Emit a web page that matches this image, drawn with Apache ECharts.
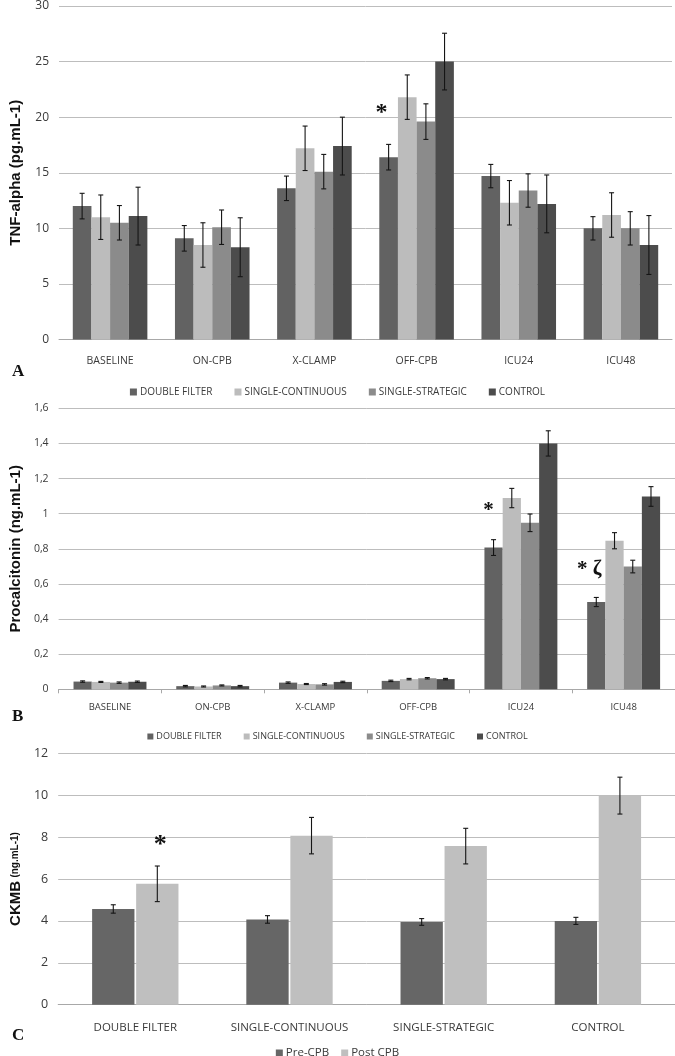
<!DOCTYPE html>
<html><head><meta charset="utf-8">
<script src="https://cdn.jsdelivr.net/npm/echarts@6/dist/echarts.min.js"></script>
<style>html,body{margin:0;padding:0;background:#fff}#c{width:675px;height:1056px}</style>
</head><body><div id="c"></div>
<script>
// ---------- DATA ----------
const timepoints = ['BASELINE','ON-CPB','X-CLAMP','OFF-CPB','ICU24','ICU48'];
const groups = ['DOUBLE FILTER','SINGLE-CONTINUOUS','SINGLE-STRATEGIC','CONTROL'];

// Panel A: TNF-alpha (pg.mL-1)
const tnfDoubleFilter     = [12.0, 9.1, 13.6, 16.4, 14.7, 10.0];
const tnfSingleContinuous = [11.0, 8.5, 17.2, 21.8, 12.3, 11.2];
const tnfSingleStrategic  = [10.5, 10.1, 15.1, 19.6, 13.4, 10.0];
const tnfControl          = [11.1, 8.3, 17.4, 25.0, 12.2, 8.5];
const tnfDoubleFilterErr     = [1.15, 1.15, 1.1, 1.15, 1.05, 1.05];
const tnfSingleContinuousErr = [2.0, 2.0, 2.0, 2.0, 2.0, 2.0];
const tnfSingleStrategicErr  = [1.55, 1.55, 1.55, 1.6, 1.5, 1.5];
const tnfControlErr          = [2.6, 2.65, 2.6, 2.55, 2.6, 2.65];

// Panel B: Procalcitonin (ng.mL-1)
const pctDoubleFilter     = [0.044, 0.018, 0.038, 0.048, 0.807, 0.497];
const pctSingleContinuous = [0.042, 0.016, 0.030, 0.058, 1.089, 0.846];
const pctSingleStrategic  = [0.038, 0.022, 0.028, 0.063, 0.948, 0.699];
const pctControl          = [0.043, 0.018, 0.042, 0.058, 1.400, 1.098];
const pctDoubleFilterErr     = [0.004, 0.004, 0.004, 0.004, 0.045, 0.026];
const pctSingleContinuousErr = [0.003, 0.003, 0.003, 0.004, 0.055, 0.046];
const pctSingleStrategicErr  = [0.004, 0.003, 0.004, 0.004, 0.050, 0.036];
const pctControlErr          = [0.004, 0.004, 0.004, 0.004, 0.072, 0.056];

// Panel C: CKMB (ng.mL-1)
const ckmbGroups = ['DOUBLE FILTER','SINGLE-CONTINUOUS','SINGLE-STRATEGIC','CONTROL'];
const ckmbSeries = ['Pre-CPB','Post CPB'];
const ckmbPre     = [4.57, 4.07, 3.95, 4.0];
const ckmbPost    = [5.77, 8.07, 7.57, 9.98];
const ckmbPreErr  = [0.2, 0.18, 0.16, 0.17];
const ckmbPostErr = [0.85, 0.87, 0.85, 0.88];

// Axis ticks
const tnfTicks  = {min: 0, max: 30, interval: 5};
const pctTicks  = {min: 0, max: 1.6, interval: 0.2};
const ckmbTicks = {min: 0, max: 12, interval: 2};

// Annotations [category, value, text]
const tnfMarks  = [['OFF-CPB', 20.4, '*']];
const pctMarks  = [['ICU24', 1.02, '*'], ['ICU48', 0.68, '* ζ']];
const ckmbMarks = [['DOUBLE FILTER', 7.6, '*']];

// ---------- STYLE ----------
const colors4 = ['#626262', '#bcbcbc', '#8b8b8b', '#4c4c4c'];
const colors2 = ['#666666', '#bfbfbf'];
const FONT = 'Open Sans';
const txt = '#3a3a3a';
const gridColor = '#bdbdbd';

function errSeries(name, xIdx, yIdx, vals, errs, k, n, catGap, barGap) {
  return {
    type: 'custom', name: name + ' err', xAxisIndex: xIdx, yAxisIndex: yIdx, z: 10,
    silent: true, legendHoverLink: false,
    data: vals.map((v, i) => [i, v, errs[i]]),
    renderItem: function (params, api) {
      const i = api.value(0), v = api.value(1), e = api.value(2);
      const band = api.size([1, 0])[0];
      const total = band * (1 - catGap);
      const bw = total / (n + (n - 1) * barGap);
      const center = api.coord([i, v])[0];
      const x = center - total / 2 + k * bw * (1 + barGap) + bw / 2;
      const yt = api.coord([i, v + e])[1];
      const yb = api.coord([i, v - e])[1];
      const cw = 2.5;
      const st = {stroke: '#151515', lineWidth: 1.1};
      return {type: 'group', children: [
        {type: 'line', shape: {x1: x, y1: yt, x2: x, y2: yb}, style: st},
        {type: 'line', shape: {x1: x - cw, y1: yt, x2: x + cw, y2: yt}, style: st},
        {type: 'line', shape: {x1: x - cw, y1: yb, x2: x + cw, y2: yb}, style: st}
      ]};
    }
  };
}

function markPt(marks, fontSize, offsets) {
  return {
    symbol: 'rect', symbolSize: 2, silent: true,
    itemStyle: {color: 'rgba(255,255,255,0)'},
    label: {show: true, position: 'inside', color: '#111', fontSize: fontSize, fontWeight: 'bold', fontFamily: 'Liberation Serif'},
    data: marks.map((m, j) => ({coord: [m[0], m[1]], label: {formatter: m[2], offset: [offsets[j], 0]}}))
  };
}

const tnfVals = [tnfDoubleFilter, tnfSingleContinuous, tnfSingleStrategic, tnfControl];
const tnfErrs = [tnfDoubleFilterErr, tnfSingleContinuousErr, tnfSingleStrategicErr, tnfControlErr];
const pctVals = [pctDoubleFilter, pctSingleContinuous, pctSingleStrategic, pctControl];
const pctErrs = [pctDoubleFilterErr, pctSingleContinuousErr, pctSingleStrategicErr, pctControlErr];
const ckVals = [ckmbPre, ckmbPost];
const ckErrs = [ckmbPreErr, ckmbPostErr];

const gapA = 0.27, gapB = 0.29, gapC = 0.44, barGapC = 0.04;

const series = [];
groups.forEach((g, k) => {
  series.push({type: 'bar', name: g, xAxisIndex: 0, yAxisIndex: 0, data: tnfVals[k],
    itemStyle: {color: colors4[k]}, barGap: '0%', barCategoryGap: (gapA * 100) + '%',
    markPoint: k === 0 ? markPt(tnfMarks, 24, [-7]) : undefined});
});
groups.forEach((g, k) => series.push(errSeries(g, 0, 0, tnfVals[k], tnfErrs[k], k, 4, gapA, 0)));
groups.forEach((g, k) => {
  series.push({type: 'bar', name: g, xAxisIndex: 1, yAxisIndex: 1, data: pctVals[k],
    itemStyle: {color: colors4[k]}, barGap: '0%', barCategoryGap: (gapB * 100) + '%',
    markPoint: k === 0 ? markPt(pctMarks, 21, [-5, -7]) : undefined});
});
groups.forEach((g, k) => series.push(errSeries(g, 1, 1, pctVals[k], pctErrs[k], k, 4, gapB, 0)));
ckmbSeries.forEach((g, k) => {
  series.push({type: 'bar', name: g, xAxisIndex: 2, yAxisIndex: 2, data: ckVals[k],
    itemStyle: {color: colors2[k]}, barGap: (barGapC * 100) + '%', barCategoryGap: (gapC * 100) + '%',
    markPoint: k === 1 ? markPt(ckmbMarks, 26, [3]) : undefined});
});
ckmbSeries.forEach((g, k) => series.push(errSeries(g, 2, 2, ckVals[k], ckErrs[k], k, 2, gapC, barGapC)));

const commaFmt = v => String(v).replace('.', ',');

function yAx(idx, ticks, name, nameGap, labelSize, fmt, nameStyle) {
  return {
    type: 'value', gridIndex: idx, min: ticks.min, max: ticks.max, interval: ticks.interval,
    axisLine: {show: false}, axisTick: {show: false},
    axisLabel: {color: txt, fontSize: labelSize, fontFamily: FONT, margin: 10, formatter: fmt},
    splitLine: {lineStyle: {color: gridColor, width: 1}},
    name: name, nameLocation: 'middle', nameGap: nameGap, nameRotate: 90,
    nameTextStyle: nameStyle || {color: '#111', fontSize: 15, fontWeight: 'bold', fontFamily: 'Liberation Sans'}
  };
}

const option = {
  animation: false,
  backgroundColor: '#ffffff',
  grid: [
    {left: 55, right: 3, top: 5, height: 334.5},
    {left: 50, right: 0, top: 408.3, height: 281},
    {left: 51, right: 0, top: 753.3, height: 251.4}
  ],
  xAxis: [
    {type: 'category', gridIndex: 0, data: timepoints,
      axisLine: {lineStyle: {color: '#a8a8a8'}}, axisTick: {show: false},
      axisLabel: {color: txt, fontSize: 10.5, fontFamily: FONT, margin: 16}},
    {type: 'category', gridIndex: 1, data: timepoints,
      axisLine: {lineStyle: {color: '#a8a8a8'}}, axisTick: {show: true, length: 4, lineStyle: {color: '#a8a8a8'}},
      axisLabel: {color: txt, fontSize: 9.5, fontFamily: FONT, margin: 13}},
    {type: 'category', gridIndex: 2, data: ckmbGroups,
      axisLine: {lineStyle: {color: '#a8a8a8'}}, axisTick: {show: false},
      axisLabel: {color: txt, fontSize: 11.5, fontFamily: FONT, margin: 17}}
  ],
  yAxis: [
    yAx(0, tnfTicks, 'TNF-alpha (pg.mL-1)', 36, 12, null),
    yAx(1, pctTicks, 'Procalcitonin (ng.mL-1)', 31, 10.5, commaFmt),
    yAx(2, ckmbTicks, '{a|CKMB} {b|(ng.mL-1)}', 33, 12.5, null,
      {rich: {a: {fontSize: 15, fontWeight: 'bold', color: '#111', fontFamily: 'Liberation Sans'},
              b: {fontSize: 10, fontWeight: 'bold', color: '#111', fontFamily: 'Liberation Sans'}}})
  ],
  legend: [
    {data: groups, top: 382, left: 'center', itemWidth: 7, itemHeight: 7, itemGap: 22, icon: 'rect',
      textStyle: {color: txt, fontSize: 10, fontFamily: FONT, padding: [0, 0, 0, -2]}},
    {data: groups, top: 727, left: 'center', itemWidth: 6, itemHeight: 6, itemGap: 22, icon: 'rect',
      textStyle: {color: txt, fontSize: 9, fontFamily: FONT, padding: [0, 0, 0, -2]}},
    {data: ckmbSeries, top: 1042, left: 'center', itemWidth: 7, itemHeight: 7, itemGap: 12, icon: 'rect',
      textStyle: {color: txt, fontSize: 11.5, fontFamily: FONT, padding: [0, 0, 0, -2]}}
  ],
  graphic: [
    {type: 'text', left: 12, top: 363, style: {text: 'A', font: 'bold 17px "Liberation Serif"', fill: '#111'}},
    {type: 'text', left: 12, top: 708, style: {text: 'B', font: 'bold 17px "Liberation Serif"', fill: '#111'}},
    {type: 'text', left: 12, top: 1027, style: {text: 'C', font: 'bold 17px "Liberation Serif"', fill: '#111'}}
  ],
  series: series
};

const chart = echarts.init(document.getElementById('c'), null, {renderer: 'canvas'});
chart.setOption(option);
</script>
</body></html>
